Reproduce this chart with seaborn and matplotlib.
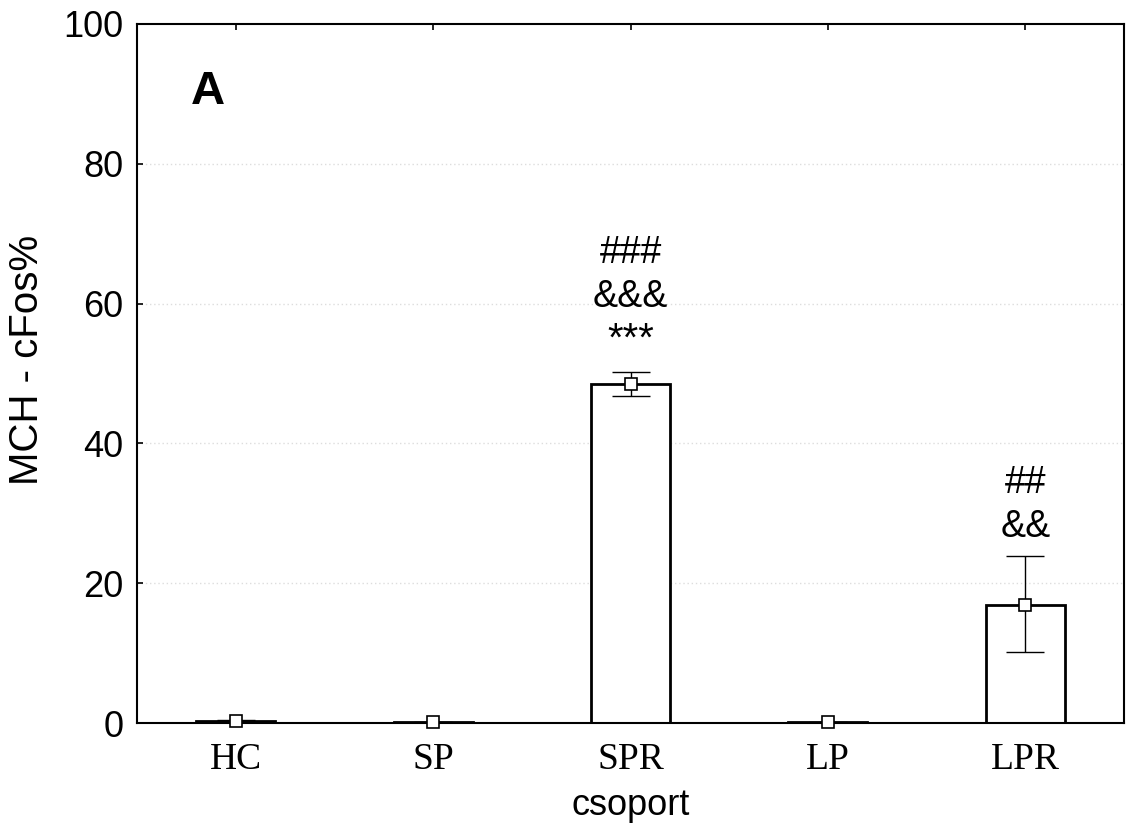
import matplotlib
matplotlib.use("Agg")
import matplotlib.pyplot as plt
import seaborn as sns
import pandas as pd

groups = ["HC", "SP", "SPR", "LP", "LPR"]
means = [0.3, 0.1, 48.5, 0.1, 16.9]
err_lo = [0.2, 0.1, 1.7, 0.1, 6.7]
err_hi = [0.2, 0.1, 1.7, 0.1, 7.0]
annot_groups = ["SPR", "SPR", "SPR", "LPR", "LPR"]
annot_texts = ["###", "&&&", "***", "##", "&&"]
annot_y = [65.8, 59.5, 53.3, 32.9, 26.6]
yticks = [0, 20, 40, 60, 80, 100]

sns.set_style("white")
plt.rcParams["font.family"] = ["Liberation Sans", "DejaVu Sans"]
plt.rcParams.update({"text.color": "black", "axes.labelcolor": "black",
                     "xtick.color": "black", "ytick.color": "black"})

df = pd.DataFrame({"csoport": groups, "val": means})

fig = plt.figure(figsize=(11.26, 8.38), dpi=100)
ax = fig.add_axes([0.1217, 0.1372, 0.8765, 0.8342])

sns.barplot(data=df, x="csoport", y="val", order=groups, color="white",
            edgecolor="black", linewidth=2.0, width=0.4, errorbar=None,
            ax=ax, zorder=2)

xpos = list(range(len(groups)))
ax.errorbar(xpos, means, yerr=[err_lo, err_hi], fmt="none", ecolor="black",
            elinewidth=1.0, capsize=14, capthick=1.0, zorder=3)
ax.plot(xpos, means, linestyle="none", marker="s", markersize=8,
        markerfacecolor="white", markeredgecolor="black",
        markeredgewidth=1.2, zorder=4, clip_on=False)

for g, t, y in zip(annot_groups, annot_texts, annot_y):
    fs = 29 if t == "***" else 27
    ax.text(groups.index(g), y, t, ha="center", va="baseline", fontsize=fs,
            color="black", zorder=5)

ax.text(0.055, 0.885, "A", transform=ax.transAxes, fontsize=34,
        fontweight="bold", ha="left", va="baseline", color="black")

ax.set_ylim(0, 100)
ax.set_xlim(-0.5, 4.5)
ax.set_yticks(yticks)
ax.set_yticklabels([str(v) for v in yticks], fontsize=26)
ax.set_xticks(xpos)
ax.set_xticklabels(groups, fontsize=27, family=["Liberation Serif", "DejaVu Serif"])
ax.set_xlabel("csoport", fontsize=26, labelpad=8)
ax.set_ylabel("MCH - cFos%", fontsize=29)
ax.yaxis.set_label_coords(-0.092, 0.52)

ax.yaxis.grid(True, linestyle=(0, (1, 2)), color="#dddddd", linewidth=1.0)
ax.xaxis.grid(False)
ax.set_axisbelow(True)
gl = ax.get_ygridlines()
for v, line in zip(yticks, gl):
    if v in (0, 100):
        line.set_visible(False)

for s in ax.spines.values():
    s.set_color("black")
    s.set_linewidth(1.5)

ax.tick_params(axis="y", direction="in", length=4, width=1.2, left=True,
               right=False, pad=10)
ax.tick_params(axis="x", direction="in", length=4, width=1.2, bottom=True,
               top=True, pad=14)

fig.savefig("out.png", dpi=100)
